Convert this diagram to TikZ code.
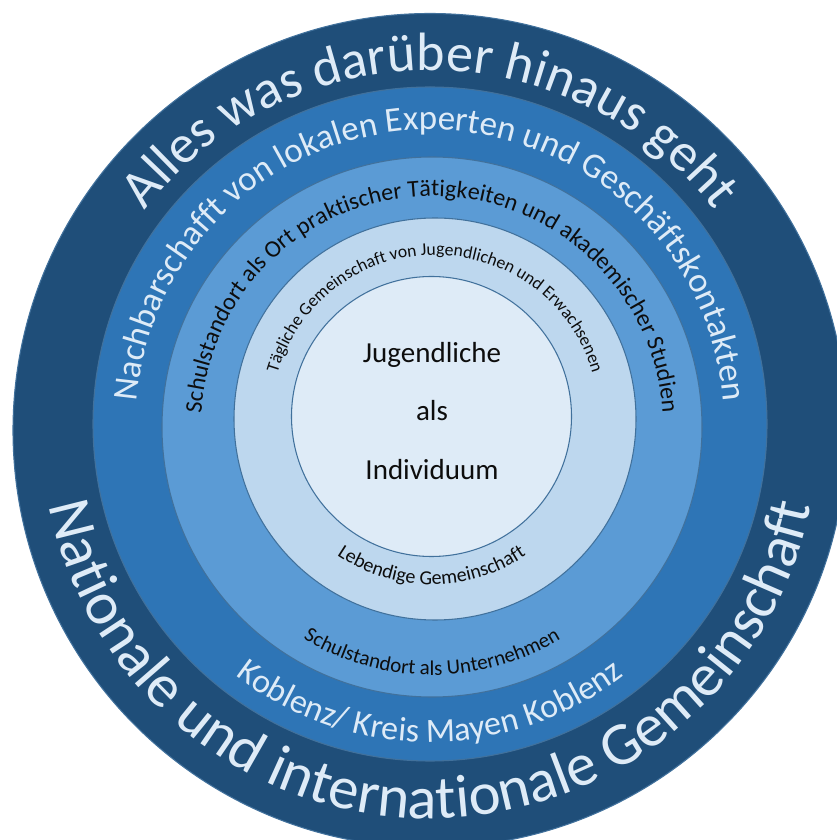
\documentclass[tikz,border=0pt]{standalone}
\usepackage{fontspec}
\setmainfont{Carlito}
\usetikzlibrary{decorations.text}

\definecolor{coreFill}{HTML}{DEEBF7}
\definecolor{dailyFill}{HTML}{BDD7EE}
\definecolor{schoolFill}{HTML}{5B9BD5}
\definecolor{regionFill}{HTML}{2E75B6}
\definecolor{worldFill}{HTML}{1F4E79}
\definecolor{rim}{HTML}{41719C}
\definecolor{paleText}{HTML}{DEEBF7}
\definecolor{darkText}{HTML}{0D0D0D}

% fonts for the curved captions (sizes in pt, 1px = 0.75pt)
\newcommand\fWorld{\fontsize{40.5}{48}\selectfont\color{paleText}}
\newcommand\fNation{\fontsize{45.5}{54}\selectfont\color{paleText}}
\newcommand\fRegion{\fontsize{26.25}{31}\selectfont\color{paleText}}
\newcommand\fKoblenz{\fontsize{25.5}{30}\selectfont\color{paleText}}
\newcommand\fSchool{\fontsize{18}{22}\selectfont\color{darkText}}
\newcommand\fSchoolLow{\fontsize{15.75}{19}\selectfont\color{darkText}}
\newcommand\fDaily{\fontsize{13.25}{16}\selectfont\color{darkText}}
\newcommand\fLively{\fontsize{15}{18}\selectfont\color{darkText}}

\begin{document}
\begin{tikzpicture}[x=0.75pt,y=0.75pt,
  disc/.style={draw=rim, line width=0.8pt},
  captionpath/.style={decorate, decoration={text along path, text align=center, text={#1}}}]
\useasboundingbox (0,0) rectangle (837,840);
\clip (0,0) rectangle (837,840);

% centres of the nested discs
\coordinate (cWorld)  at (430,409.5);
\coordinate (cRegion) at (430,416);
\coordinate (cSchool) at (432,413);
\coordinate (cDaily)  at (435,421);
\coordinate (cCore)   at (431.5,423.5);

% nested discs, outermost first
\fill[worldFill]  (cWorld)  circle[radius=417];
\draw[disc]       (cWorld)  circle[radius=417];
\fill[regionFill] (cRegion) circle[radius=337];
\draw[disc]       (cRegion) circle[radius=337];
\fill[schoolFill] (cSchool) circle[radius=270];
\draw[disc]       (cSchool) circle[radius=270];
\fill[dailyFill]  (cDaily)  circle[radius=201];
\draw[disc]       (cDaily)  circle[radius=201];
\fill[coreFill]   (cCore)   circle[radius=140];
\draw[disc]       (cCore)   circle[radius=140];

% captions over the top, read clockwise
\path[captionpath={|\fWorld|Alles was darüber hinaus geht}]
  (cWorld) ++(200:360) arc[start angle=200, end angle=-20, radius=360];
\path[captionpath={|\fRegion|Nachbarschafft von lokalen Experten und Geschäftskontakten}]
  (cRegion) ++(200:294) arc[start angle=200, end angle=-20, radius=294];
\path[captionpath={|\fSchool|Schulstandort als Ort praktischer Tätigkeiten und akademischer Studien}]
  (cSchool) ++(200:231) arc[start angle=200, end angle=-20, radius=231];
\path[captionpath={|\fDaily|Tägliche Gemeinschaft von Jugendlichen und Erwachsenen}]
  (cDaily) ++(200:164) arc[start angle=200, end angle=-20, radius=164];

% captions along the bottom, read counter-clockwise
\path[captionpath={|\fNation|Nationale und internationale Gemeinschaft}]
  (cWorld) ++(150:388) arc[start angle=150, end angle=390, radius=388];
\path[captionpath={|\fKoblenz|Koblenz/ Kreis Mayen Koblenz}]
  (cRegion) ++(150:318) arc[start angle=150, end angle=390, radius=318];
\path[captionpath={|\fSchoolLow|Schulstandort als Unternehmen}]
  (cSchool) ++(150:248) arc[start angle=150, end angle=390, radius=248];
\path[captionpath={|\fLively|Lebendige Gemeinschaft}]
  (cCore) ++(150:168) arc[start angle=150, end angle=390, radius=168];

% centre label
\node[align=center, text=darkText, font=\fontsize{21.75}{44}\selectfont]
  (core) at (432,429) {Jugendliche\\als\\Individuum};
\end{tikzpicture}
\end{document}
